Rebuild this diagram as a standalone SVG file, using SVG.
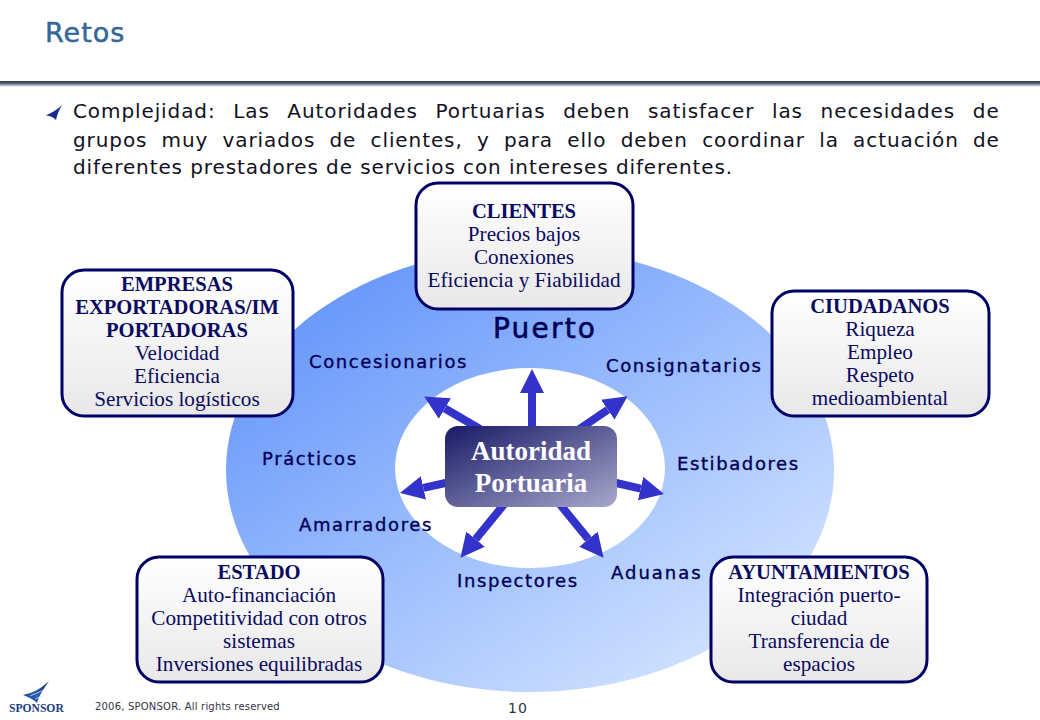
<svg xmlns="http://www.w3.org/2000/svg" width="1040" height="720" viewBox="0 0 1040 720">
<style>
.s{font-family:"DejaVu Sans","Liberation Sans",sans-serif}
.body{font-size:20px;fill:#111122;letter-spacing:.9px}
.lab{font-size:18px;fill:#000055;stroke:#000055;stroke-width:.35;letter-spacing:1.6px}
.box{fill:url(#boxg);stroke:#000066;stroke-width:3}
.t{font-family:"Liberation Serif","Times New Roman",serif;font-size:21.2px;fill:#0a0a60;text-anchor:middle}
.b{font-weight:bold;font-size:20.6px}
.arr{stroke:#3333cc;stroke-width:8;fill:none;marker-end:url(#head)}
</style>
<defs>
<linearGradient id="boxg" x1="0" y1="0" x2="0" y2="1"><stop offset="0" stop-color="#ffffff"/><stop offset="1" stop-color="#e8e8e8"/></linearGradient>
<linearGradient id="ell" x1="0.1" y1="0.1" x2="0.85" y2="0.9"><stop offset="0" stop-color="#6495fb"/><stop offset="1" stop-color="#d0e2ff"/></linearGradient>
<linearGradient id="cen" x1="0" y1="0" x2="1" y2="1"><stop offset="0" stop-color="#191966"/><stop offset="1" stop-color="#a8a8cc"/></linearGradient>
<linearGradient id="rule" x1="0" y1="0" x2="0" y2="1"><stop offset="0" stop-color="#2f3a50"/><stop offset="0.35" stop-color="#4a5570"/><stop offset="0.7" stop-color="#a8b0c8"/><stop offset="1" stop-color="#ffffff"/></linearGradient>
<linearGradient id="sw" x1="1" y1="0" x2="0" y2="1"><stop offset="0" stop-color="#10206a"/><stop offset="0.55" stop-color="#2a60b0"/><stop offset="1" stop-color="#1a3a90"/></linearGradient>
<marker id="head" markerUnits="userSpaceOnUse" markerWidth="24" markerHeight="24" viewBox="0 0 24 24" refX="0" refY="12" orient="auto"><path d="M0 0L24 12L0 24L0 0Z" fill="#3333cc"/></marker>
</defs>
<rect width="1040" height="720" fill="#ffffff"/>
<text class="s" x="45" y="42" font-size="27" fill="#336699" stroke="#336699" stroke-width=".5" letter-spacing="1">Retos</text>
<rect x="0" y="81" width="1040" height="6" fill="url(#rule)"/>
<path d="M62 105C58 109 52 113 46 115.5C50 116 53 117 56 120C57 115 59 110 62 105Z" fill="#1a2a90"/>
<g class="s body">
<text x="73" y="118" word-spacing="10.4">Complejidad: Las Autoridades Portuarias deben satisfacer las necesidades de</text>
<text x="73" y="147" word-spacing="7">grupos muy variados de clientes, y para ello deben coordinar la actuación de</text>
<text x="73" y="174">diferentes prestadores de servicios con intereses diferentes.</text>
</g>
<ellipse cx="530" cy="470" rx="304" ry="222" fill="url(#ell)"/>
<ellipse cx="530" cy="468" rx="135" ry="100" fill="#ffffff"/>
<g id="connectors">
<line class="arr" x1="532" y1="430" x2="532" y2="393"/>
<line class="arr" x1="480" y1="429" x2="444.9" y2="408.5"/>
<line class="arr" x1="578" y1="430" x2="607.8" y2="409.7"/>
<line class="arr" x1="450" y1="482" x2="423.4" y2="487.9"/>
<line class="arr" x1="612" y1="482" x2="640.6" y2="488.6"/>
<line class="arr" x1="506" y1="502" x2="475.6" y2="539.2"/>
<line class="arr" x1="558" y1="502" x2="588.4" y2="539.2"/>
</g>
<g id="autoridad">
<rect x="445" y="426" width="172" height="81" rx="13" fill="url(#cen)"/>
<text class="t b" x="531" y="460" style="font-size:27px;fill:#fff">Autoridad</text>
<text class="t b" x="531" y="492" style="font-size:27px;fill:#fff">Portuaria</text>
</g>
<g id="puerto-labels" class="s lab">
<text x="493" y="338" style="font-size:28px;letter-spacing:2.2px;stroke-width:.6">Puerto</text>
<text x="309" y="368">Concesionarios</text>
<text x="606" y="372">Consignatarios</text>
<text x="262" y="465">Prácticos</text>
<text x="677" y="470">Estibadores</text>
<text x="299" y="531">Amarradores</text>
<text x="457" y="587">Inspectores</text>
<text x="611" y="579" letter-spacing="2">Aduanas</text>
</g>
<g id="clientes">
<rect class="box" x="416" y="183" width="217" height="126" rx="22"/>
<text class="t b" x="524" y="218">CLIENTES</text>
<text class="t" x="524" y="241">Precios bajos</text>
<text class="t" x="524" y="264">Conexiones</text>
<text class="t" x="524" y="287">Eficiencia y Fiabilidad</text>
</g>
<g id="empresas">
<rect class="box" x="62" y="270" width="231" height="146" rx="22"/>
<text class="t b" x="177" y="291">EMPRESAS</text>
<text class="t b" x="177" y="314">EXPORTADORAS/IM</text>
<text class="t b" x="177" y="337">PORTADORAS</text>
<text class="t" x="177" y="360">Velocidad</text>
<text class="t" x="177" y="383">Eficiencia</text>
<text class="t" x="177" y="406">Servicios logísticos</text>
</g>
<g id="ciudadanos">
<rect class="box" x="772" y="291" width="217" height="125" rx="22"/>
<text class="t b" x="880" y="313">CIUDADANOS</text>
<text class="t" x="880" y="336">Riqueza</text>
<text class="t" x="880" y="359">Empleo</text>
<text class="t" x="880" y="382">Respeto</text>
<text class="t" x="880" y="405">medioambiental</text>
</g>
<g id="estado">
<rect class="box" x="137" y="557" width="246" height="125" rx="22"/>
<text class="t b" x="259" y="579">ESTADO</text>
<text class="t" x="259" y="602">Auto-financiación</text>
<text class="t" x="259" y="625">Competitividad con otros</text>
<text class="t" x="259" y="648">sistemas</text>
<text class="t" x="259" y="671">Inversiones equilibradas</text>
</g>
<g id="ayuntamientos">
<rect class="box" x="711" y="557" width="216" height="125" rx="22"/>
<text class="t b" x="819" y="579">AYUNTAMIENTOS</text>
<text class="t" x="819" y="602">Integración puerto-</text>
<text class="t" x="819" y="625">ciudad</text>
<text class="t" x="819" y="648">Transferencia de</text>
<text class="t" x="819" y="671">espacios</text>
</g>
<g id="logo">
<path d="M49 681C42 688 33 693 23 695C28 697 33 699 37 703C39 696 44 688 49 681Z" fill="url(#sw)"/>
<path d="M30 696L44 690M35 699L42 696" stroke="#cfe0f5" stroke-width=".8" fill="none"/>
<text x="9" y="712" font-family="Liberation Serif,serif" font-size="11.6" font-weight="bold" fill="#1a3a80">SPONSOR</text>
</g>
<text class="s" x="95" y="710" font-size="10" fill="#333344" letter-spacing=".2">2006, SPONSOR. All rights reserved</text>
<text class="s" x="508" y="713" font-size="14" fill="#333344" letter-spacing="1">10</text>
</svg>
